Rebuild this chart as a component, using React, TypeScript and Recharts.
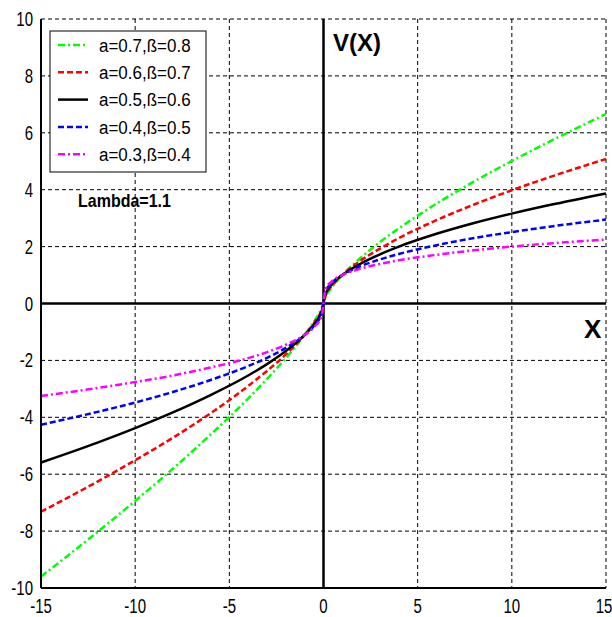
import React from "react";
import {
  LineChart,
  Line,
  XAxis,
  YAxis,
  CartesianGrid,
  ReferenceLine,
} from "recharts";

// x positions the curves were read at
const xValues = [
  -15, -12, -10, -8, -6, -4, -3, -2, -1, -0.5, -0.1, 0, 0.1, 0.5, 1, 2, 3, 4, 6,
  8, 10, 12, 15,
];

const green = [
  -9.6, -8.03, -6.94, -5.81, -4.61, -3.34, -2.65, -1.92, -1.1, -0.63, -0.17, 0,
  0.2, 0.62, 1.0, 1.62, 2.16, 2.64, 3.51, 4.29, 5.01, 5.69, 6.66,
];
const red = [
  -7.32, -6.26, -5.51, -4.72, -3.86, -2.9, -2.37, -1.79, -1.1, -0.68, -0.22, 0,
  0.25, 0.66, 1.0, 1.52, 1.93, 2.3, 2.93, 3.48, 3.98, 4.44, 5.08,
];
const black = [
  -5.59, -4.89, -4.38, -3.83, -3.22, -2.53, -2.13, -1.67, -1.1, -0.73, -0.28, 0,
  0.32, 0.71, 1.0, 1.41, 1.73, 2.0, 2.45, 2.83, 3.16, 3.46, 3.87,
];
const blue = [
  -4.26, -3.81, -3.48, -3.11, -2.69, -2.2, -1.91, -1.56, -1.1, -0.78, -0.35, 0,
  0.4, 0.76, 1.0, 1.32, 1.55, 1.74, 2.05, 2.3, 2.51, 2.7, 2.95,
];
const magenta = [
  -3.25, -2.97, -2.76, -2.53, -2.25, -1.92, -1.71, -1.45, -1.1, -0.83, -0.44, 0,
  0.5, 0.81, 1.0, 1.23, 1.39, 1.52, 1.71, 1.87, 2.0, 2.11, 2.25,
];

const xTicks = [-15, -10, -5, 0, 5, 10, 15];
const yTicks = [-10, -8, -6, -4, -2, 0, 2, 4, 6, 8, 10];

const series = [
  { key: "g", label: "a=0.7,ß=0.8", values: green, color: "#00ff00", dash: "7 3 2 3" },
  { key: "r", label: "a=0.6,ß=0.7", values: red, color: "#ff0000", dash: "6 3" },
  { key: "k", label: "a=0.5,ß=0.6", values: black, color: "#000000", dash: undefined },
  { key: "b", label: "a=0.4,ß=0.5", values: blue, color: "#0000ff", dash: "6 3" },
  { key: "m", label: "a=0.3,ß=0.4", values: magenta, color: "#ff00ff", dash: "7 3 2 3" },
];

const data = xValues.map((x, i) => {
  const row: any = { x };
  series.forEach((s) => (row[s.key] = s.values[i]));
  return row;
});

const font = "Liberation Sans, Arial, sans-serif";

const XTick = ({ x, y, payload }: any) => (
  <text
    transform={`translate(${x},${y}) scale(1,1.3)`}
    y={13}
    textAnchor="middle"
    fontSize={15}
    fontFamily={font}
    fill="#000"
  >
    {payload.value}
  </text>
);

const YTick = ({ x, y, payload }: any) => (
  <text
    transform={`translate(${x},${y}) scale(1,1.3)`}
    y={5.4}
    textAnchor="end"
    fontSize={15}
    fontFamily={font}
    fill="#000"
  >
    {payload.value}
  </text>
);

export default function App() {
  return (
    <div
      style={{
        position: "absolute",
        left: 0,
        top: 0,
        width: 612,
        height: 617,
        background: "#fff",
      }}
    >
      <LineChart
        width={612}
        height={617}
        data={data}
        margin={{ top: 19, right: 6, bottom: 0, left: 0 }}
      >
        <CartesianGrid stroke="#000" strokeDasharray="4 3" strokeWidth={1} />
        <XAxis
          dataKey="x"
          type="number"
          domain={[-15, 15]}
          ticks={xTicks}
          height={29}
          tickLine={false}
          tickSize={6}
          tickMargin={2}
          axisLine={{ stroke: "#000", strokeWidth: 2 }}
          tick={<XTick />}
        />
        <YAxis
          type="number"
          domain={[-10, 10]}
          ticks={yTicks}
          width={41}
          tickLine={false}
          tickSize={6}
          tickMargin={2}
          axisLine={{ stroke: "#000", strokeWidth: 2 }}
          tick={<YTick />}
        />
        <ReferenceLine x={0} stroke="#000" strokeWidth={2.5} />
        <ReferenceLine y={0} stroke="#000" strokeWidth={2.5} />
        {series.map((s) => (
          <Line
            key={s.key}
            dataKey={s.key}
            type="monotone"
            stroke={s.color}
            strokeWidth={2.5}
            strokeDasharray={s.dash}
            dot={false}
            isAnimationActive={false}
          />
        ))}
      </LineChart>
      <svg
        width={612}
        height={617}
        style={{ position: "absolute", left: 0, top: 0, pointerEvents: "none" }}
      >
        <rect x={50} y={31} width={156} height={141} fill="#fff" stroke="#000" strokeWidth={1} />
        {series.map((s, i) => {
          const cy = 45 + i * 27.3;
          return (
            <g key={s.key}>
              <line
                x1={58}
                x2={88}
                y1={cy}
                y2={cy}
                stroke={s.color}
                strokeWidth={2.5}
                strokeDasharray={s.dash}
              />
              <text
                transform={`translate(99,${cy}) scale(1,1.12)`}
                y={6}
                fontSize={17}
                fontFamily={font}
                fill="#000"
              >
                {s.label}
              </text>
            </g>
          );
        })}
        <text
          x={333}
          y={51}
          fontSize={24}
          fontWeight="bold"
          fontFamily={font}
          fill="#000"
        >
          V(X)
        </text>
        <text
          x={584}
          y={338}
          fontSize={26}
          fontWeight="bold"
          fontFamily={font}
          fill="#000"
        >
          X
        </text>
        <text
          transform="translate(78,207) scale(1,1.15)"
          fontSize={16}
          fontWeight="bold"
          fontFamily={font}
          fill="#000"
        >
          Lambda=1.1
        </text>
      </svg>
    </div>
  );
}
